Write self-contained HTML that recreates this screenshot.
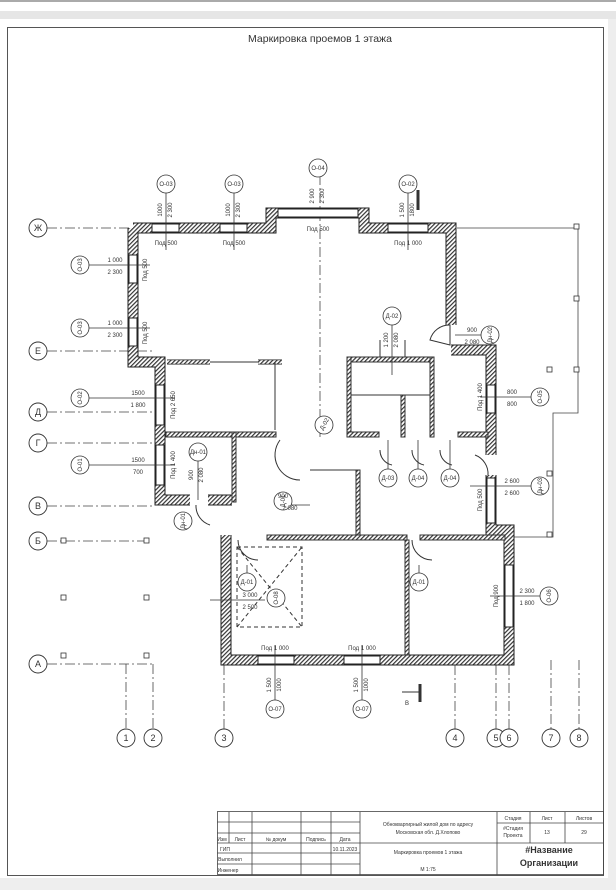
<!DOCTYPE html>
<html><head><meta charset="utf-8"><style>
html,body{margin:0;padding:0;background:#fff}
svg{display:block}
text{font-family:"Liberation Sans",sans-serif;fill:#333}
</style></head><body>
<svg width="616" height="890" viewBox="0 0 616 890" xmlns="http://www.w3.org/2000/svg">
<defs>
<pattern id="h" width="3" height="3" patternUnits="userSpaceOnUse" patternTransform="rotate(45)">
<rect width="3" height="3" fill="#fff"/><rect width="1.2" height="3" fill="#333"/></pattern>
</defs>
<rect x="0" y="0" width="616" height="890" fill="#fff"/>
<rect x="0" y="11" width="616" height="8" fill="#e6e6e6"/>
<line x1="0" y1="1" x2="616" y2="1" stroke="#555" stroke-width="1"/>
<rect x="608" y="19" width="8" height="871" fill="#eee"/>
<rect x="0" y="878" width="616" height="12" fill="#eee"/>
<rect x="7.5" y="27.5" width="596" height="848" fill="#fff" stroke="#555" stroke-width="1"/>
<text x="320" y="42" font-size="10.5" text-anchor="middle" fill="#444">Маркировка проемов 1 этажа</text>

<g stroke="#444" stroke-width="0.8" stroke-dasharray="10 3 2 3" fill="none">
<line x1="47" y1="228" x2="130" y2="228"/>
<line x1="47" y1="351" x2="155" y2="351"/>
<line x1="47" y1="412" x2="155" y2="412"/>
<line x1="47" y1="443" x2="155" y2="443"/>
<line x1="47" y1="506" x2="155" y2="506"/>
<line x1="47" y1="541" x2="150" y2="541"/>
<line x1="47" y1="664" x2="153" y2="664"/>
<line x1="126" y1="664" x2="126" y2="729"/>
<line x1="153" y1="664" x2="153" y2="729"/>
<line x1="224" y1="665" x2="224" y2="729"/>
<line x1="455" y1="665" x2="455" y2="729"/>
<line x1="496" y1="665" x2="496" y2="729"/>
<line x1="509" y1="665" x2="509" y2="729"/>
<line x1="551" y1="660" x2="551" y2="729"/>
<line x1="579" y1="660" x2="579" y2="729"/>
<line x1="320" y1="175" x2="320" y2="440"/>
</g>
<g stroke="#333" stroke-width="0.9" fill="#fff" font-size="9">
<circle cx="38" cy="228" r="9"/><circle cx="38" cy="351" r="9"/><circle cx="38" cy="412" r="9"/>
<circle cx="38" cy="443" r="9"/><circle cx="38" cy="506" r="9"/><circle cx="38" cy="541" r="9"/><circle cx="38" cy="664" r="9"/>
<circle cx="126" cy="738" r="9"/><circle cx="153" cy="738" r="9"/><circle cx="224" cy="738" r="9"/>
<circle cx="455" cy="738" r="9"/><circle cx="496" cy="738" r="9"/><circle cx="509" cy="738" r="9"/>
<circle cx="551" cy="738" r="9"/><circle cx="579" cy="738" r="9"/>
</g>
<g font-size="9" text-anchor="middle">
<text x="38" y="231">Ж</text><text x="38" y="354">Е</text><text x="38" y="415">Д</text><text x="38" y="446">Г</text>
<text x="38" y="509">В</text><text x="38" y="544">Б</text><text x="38" y="667">А</text>
<text x="126" y="741">1</text><text x="153" y="741">2</text><text x="224" y="741">3</text><text x="455" y="741">4</text>
<text x="496" y="741">5</text><text x="509" y="741">6</text><text x="551" y="741">7</text><text x="579" y="741">8</text>
</g>

<polyline points="457,228 578,228 578,413 553,413 553,537 512,537" fill="none" stroke="#444" stroke-width="0.8"/>
<g fill="#fff" stroke="#333" stroke-width="0.8">
<rect x="574" y="224" width="5" height="5"/><rect x="574" y="296" width="5" height="5"/><rect x="574" y="367" width="5" height="5"/>
<rect x="547" y="367" width="5" height="5"/><rect x="547" y="471" width="5" height="5"/><rect x="547" y="532" width="5" height="5"/>
<rect x="61" y="538" width="5" height="5"/><rect x="144" y="538" width="5" height="5"/>
<rect x="61" y="595" width="5" height="5"/><rect x="144" y="595" width="5" height="5"/>
<rect x="61" y="653" width="5" height="5"/><rect x="144" y="653" width="5" height="5"/>
</g>

<g fill="none" stroke-linejoin="miter">
<g stroke="#222" stroke-width="11">
<polyline points="133,228 265,228 271,228 271,213 364,213 364,228 451,228 451,325"/>
<polyline points="133,228 133,362 160,362 160,500 190,500"/>
<polyline points="208,500 232,500"/>
<polyline points="451,350 491,350 491,455"/>
<polyline points="491,475 491,530 509,530 509,660 226,660 226,535"/>
</g>
<g stroke="url(#h)" stroke-width="9">
<polyline points="133,228 265,228 271,228 271,213 364,213 364,228 451,228 451,325"/>
<polyline points="133,228 133,362 160,362 160,500 190,500"/>
<polyline points="208,500 232,500"/>
<polyline points="451,350 491,350 491,455"/>
<polyline points="491,475 491,530 509,530 509,660 226,660 226,535"/>
</g>
</g>
<g fill="#fff" stroke="#222" stroke-width="1">
<rect x="152" y="224" width="27" height="8"/><rect x="220" y="224" width="27" height="8"/>
<rect x="278" y="209" width="80" height="8"/><rect x="388" y="224" width="40" height="8"/>
<rect x="129" y="255" width="8" height="28"/><rect x="129" y="318" width="8" height="28"/>
<rect x="156" y="385" width="8" height="40"/><rect x="156" y="445" width="8" height="40"/>
<rect x="487" y="385" width="8" height="28"/><rect x="487" y="478" width="8" height="45"/>
<rect x="505" y="565" width="8" height="62"/>
<rect x="258" y="656" width="36" height="8"/><rect x="344" y="656" width="36" height="8"/>
</g>
<g stroke="#222" stroke-width="5" fill="none"><polyline points="167,362 210,362"/><polyline points="258,362 282,362"/></g>
<g stroke="url(#h)" stroke-width="3.5" fill="none"><polyline points="167,362 210,362"/><polyline points="258,362 282,362"/></g>
<g stroke="#333" stroke-width="1" fill="none">
<polyline points="210,362 258,362"/><line x1="275" y1="362" x2="275" y2="430"/>
<rect x="347" y="357" width="85" height="5" fill="url(#h)"/>
<rect x="347" y="357" width="4" height="80" fill="url(#h)"/>
<rect x="166" y="432" width="110" height="5" fill="url(#h)"/>
<rect x="232" y="432" width="4" height="70" fill="url(#h)"/>
<rect x="347" y="432" width="32" height="5" fill="url(#h)"/>
<rect x="458" y="432" width="30" height="5" fill="url(#h)"/>
<rect x="430" y="357" width="4" height="80" fill="url(#h)"/>
<rect x="401" y="395" width="4" height="42" fill="url(#h)"/>
<line x1="351" y1="395" x2="430" y2="395"/>
<rect x="267" y="535" width="140" height="5" fill="url(#h)"/>
<rect x="420" y="535" width="85" height="5" fill="url(#h)"/>
<rect x="405" y="540" width="4" height="115" fill="url(#h)"/>
<rect x="356" y="470" width="4" height="65" fill="url(#h)"/>
<polyline points="310,470 356,470"/>
<rect x="237" y="547" width="65" height="80" stroke-dasharray="4 3"/>
<line x1="237" y1="627" x2="302" y2="547" stroke-dasharray="4 3"/>
<line x1="237" y1="547" x2="302" y2="627" stroke-dasharray="4 3"/>
<path d="M430,340 A20,20 0 0 1 450,325 L450,345 Z"/>
<path d="M475,455 A20,20 0 0 1 488,475"/>
<path d="M280,440 A25,25 0 0 0 300,480"/>
<path d="M380,340 L380,357 M405,340 L405,357"/>
<path d="M196,505 A20,20 0 0 0 210,525"/>
<path d="M238,540 A20,20 0 0 0 258,560"/>
<path d="M412,540 A20,20 0 0 0 432,560"/>
<path d="M380,450 A15,15 0 0 0 392,465 M412,450 A15,15 0 0 0 424,465 M440,450 A15,15 0 0 0 452,465"/>
<line x1="418" y1="190" x2="418" y2="210" stroke-width="3"/>
<line x1="420" y1="684" x2="420" y2="702" stroke-width="3"/><line x1="402" y1="692" x2="420" y2="692"/>
</g>

<g stroke="#333" stroke-width="0.8" fill="none">
<line x1="166" y1="192" x2="166" y2="250"/><line x1="234" y1="192" x2="234" y2="250"/><line x1="408" y1="192" x2="408" y2="250"/>
<line x1="80" y1="265" x2="150" y2="265"/><line x1="80" y1="328" x2="150" y2="328"/>
<line x1="80" y1="398" x2="175" y2="398"/><line x1="80" y1="465" x2="175" y2="465"/>
<line x1="480" y1="397" x2="535" y2="397"/><line x1="470" y1="486" x2="535" y2="486"/><line x1="490" y1="596" x2="545" y2="596"/>
<line x1="455" y1="335" x2="485" y2="335"/>
<line x1="392" y1="320" x2="392" y2="375"/>
<line x1="198" y1="455" x2="198" y2="500"/>
<line x1="290" y1="505" x2="310" y2="505"/>
<line x1="275" y1="705" x2="275" y2="645"/><line x1="362" y1="705" x2="362" y2="645"/>
<line x1="210" y1="600" x2="265" y2="600"/>
<line x1="247" y1="565" x2="247" y2="580"/><line x1="419" y1="565" x2="419" y2="580"/>
<line x1="388" y1="440" x2="388" y2="470"/><line x1="418" y1="440" x2="418" y2="470"/><line x1="450" y1="440" x2="450" y2="470"/>
</g>
<g stroke="#333" stroke-width="0.8" fill="#fff">
<circle cx="166" cy="184" r="9"/><circle cx="234" cy="184" r="9"/><circle cx="318" cy="168" r="9"/><circle cx="408" cy="184" r="9"/>
<circle cx="80" cy="265" r="9"/><circle cx="80" cy="328" r="9"/><circle cx="80" cy="398" r="9"/><circle cx="80" cy="465" r="9"/>
<circle cx="392" cy="316" r="9"/><circle cx="490" cy="335" r="9"/><circle cx="540" cy="397" r="9"/><circle cx="540" cy="486" r="9"/><circle cx="549" cy="596" r="9"/>
<circle cx="198" cy="452" r="9"/><circle cx="324" cy="425" r="9"/><circle cx="183" cy="521" r="9"/><circle cx="283" cy="501" r="9"/>
<circle cx="388" cy="478" r="9"/><circle cx="418" cy="478" r="9"/><circle cx="450" cy="478" r="9"/>
<circle cx="247" cy="582" r="9"/><circle cx="419" cy="582" r="9"/><circle cx="276" cy="598" r="9"/>
<circle cx="275" cy="709" r="9"/><circle cx="362" cy="709" r="9"/>
</g>
<g font-size="6" text-anchor="middle">
<text x="166" y="186">О-03</text><text x="234" y="186">О-03</text><text x="318" y="170">О-04</text><text x="408" y="186">О-02</text>
<text x="392" y="318">Д-02</text><text x="388" y="480">Д-03</text><text x="418" y="480">Д-04</text><text x="450" y="480">Д-04</text>
<text x="247" y="584">Д-01</text><text x="419" y="584">Д-01</text><text x="198" y="454">Дн-01</text>
<text x="275" y="711">О-07</text><text x="362" y="711">О-07</text>
<text transform="translate(82,265) rotate(-90)">О-03</text><text transform="translate(82,328) rotate(-90)">О-03</text>
<text transform="translate(82,398) rotate(-90)">О-02</text><text transform="translate(82,465) rotate(-90)">О-01</text>
<text transform="translate(492,335) rotate(-90)">Дн-02</text><text transform="translate(542,397) rotate(-90)">О-05</text>
<text transform="translate(542,486) rotate(-90)">Дн-03</text><text transform="translate(551,596) rotate(-90)">О-06</text>
<text transform="translate(326,425) rotate(-60)">Д-02</text><text transform="translate(185,521) rotate(-90)">Дн-01</text>
<text transform="translate(285,501) rotate(-90)">Д-01</text><text transform="translate(278,598) rotate(-90)">О-08</text>
<text x="115" y="262">1 000</text><text x="115" y="274">2 300</text><text x="115" y="325">1 000</text><text x="115" y="337">2 300</text>
<text x="138" y="395">1500</text><text x="138" y="407">1 800</text><text x="138" y="462">1500</text><text x="138" y="474">700</text>
<text x="512" y="394">800</text><text x="512" y="406">800</text><text x="512" y="483">2 600</text><text x="512" y="495">2 600</text>
<text x="527" y="593">2 300</text><text x="527" y="605">1 800</text>
<text x="472" y="332">900</text><text x="472" y="344">2 080</text>
<text x="250" y="597">3 000</text><text x="250" y="609">2 500</text>
<text x="283" y="498">900</text><text x="290" y="510">2 080</text>
<text x="166" y="245">Под 500</text><text x="234" y="245">Под 500</text><text x="318" y="231">Под 500</text><text x="408" y="245">Под 1 000</text>
<text x="275" y="650">Под 1 000</text><text x="362" y="650">Под 1 000</text>
<text x="407" y="705">В</text>
</g>
<g font-size="6" text-anchor="middle">
<text transform="translate(162,210) rotate(-90)">1000</text><text transform="translate(172,210) rotate(-90)">2 300</text>
<text transform="translate(230,210) rotate(-90)">1000</text><text transform="translate(240,210) rotate(-90)">2 300</text>
<text transform="translate(314,196) rotate(-90)">2 900</text><text transform="translate(324,196) rotate(-90)">2 300</text>
<text transform="translate(404,210) rotate(-90)">1 500</text><text transform="translate(414,210) rotate(-90)">1800</text>
<text transform="translate(271,685) rotate(-90)">1 500</text><text transform="translate(281,685) rotate(-90)">1000</text>
<text transform="translate(358,685) rotate(-90)">1 500</text><text transform="translate(368,685) rotate(-90)">1000</text>
<text transform="translate(147,270) rotate(-90)">Под 500</text><text transform="translate(147,333) rotate(-90)">Под 500</text>
<text transform="translate(175,405) rotate(-90)">Под 2 650</text><text transform="translate(175,465) rotate(-90)">Под 1 400</text>
<text transform="translate(482,397) rotate(-90)">Под 1 400</text><text transform="translate(482,500) rotate(-90)">Под 500</text>
<text transform="translate(498,596) rotate(-90)">Под 900</text>
<text transform="translate(388,340) rotate(-90)">1 200</text><text transform="translate(398,340) rotate(-90)">2 080</text>
<text transform="translate(203,475) rotate(-90)">2 080</text><text transform="translate(193,475) rotate(-90)">900</text>
</g>

<g stroke="#444" stroke-width="0.8" fill="none">
<rect x="217.5" y="811.5" width="386" height="63"/>
<line x1="360" y1="812" x2="360" y2="875"/><line x1="497" y1="812" x2="497" y2="875"/>
<line x1="217" y1="843" x2="603" y2="843"/>
<line x1="217" y1="833" x2="360" y2="833"/><line x1="217" y1="822" x2="360" y2="822"/>
<line x1="217" y1="853" x2="360" y2="853"/><line x1="217" y1="864" x2="360" y2="864"/>
<line x1="229" y1="812" x2="229" y2="843"/><line x1="252" y1="812" x2="252" y2="875"/>
<line x1="301" y1="812" x2="301" y2="875"/><line x1="331" y1="812" x2="331" y2="875"/>
<line x1="497" y1="823" x2="603" y2="823"/>
<line x1="530" y1="812" x2="530" y2="843"/><line x1="565" y1="812" x2="565" y2="843"/>
</g>
<g font-size="5" text-anchor="middle">
<text x="428" y="826">Обнокваргирный жилой дом по адресу</text><text x="428" y="834">Московская обл. Д.Хлопово</text>
<text x="428" y="854">Маркировка проемов 1 этажа</text><text x="428" y="871">М 1:75</text>
<text x="513" y="820">Стадия</text><text x="547" y="820">Лист</text><text x="584" y="820">Листов</text>
<text x="513" y="830">#Стадия</text><text x="513" y="837">Проекта</text><text x="547" y="834">13</text><text x="584" y="834">29</text>
<text x="222" y="841">Изм</text><text x="240" y="841">Лист</text><text x="276" y="841">№ докум</text><text x="316" y="841">Подпись</text><text x="345" y="841">Дата</text>
<text x="225" y="851">ГИП</text><text x="345" y="851">10.11.2023</text><text x="230" y="861">Выполнил</text><text x="228" y="872">Инженер</text>
</g>
<g font-size="9" font-weight="bold" text-anchor="middle"><text x="549" y="853" fill="#111">#Название</text><text x="549" y="866" fill="#111">Организации</text></g>
</svg>
</body></html>
